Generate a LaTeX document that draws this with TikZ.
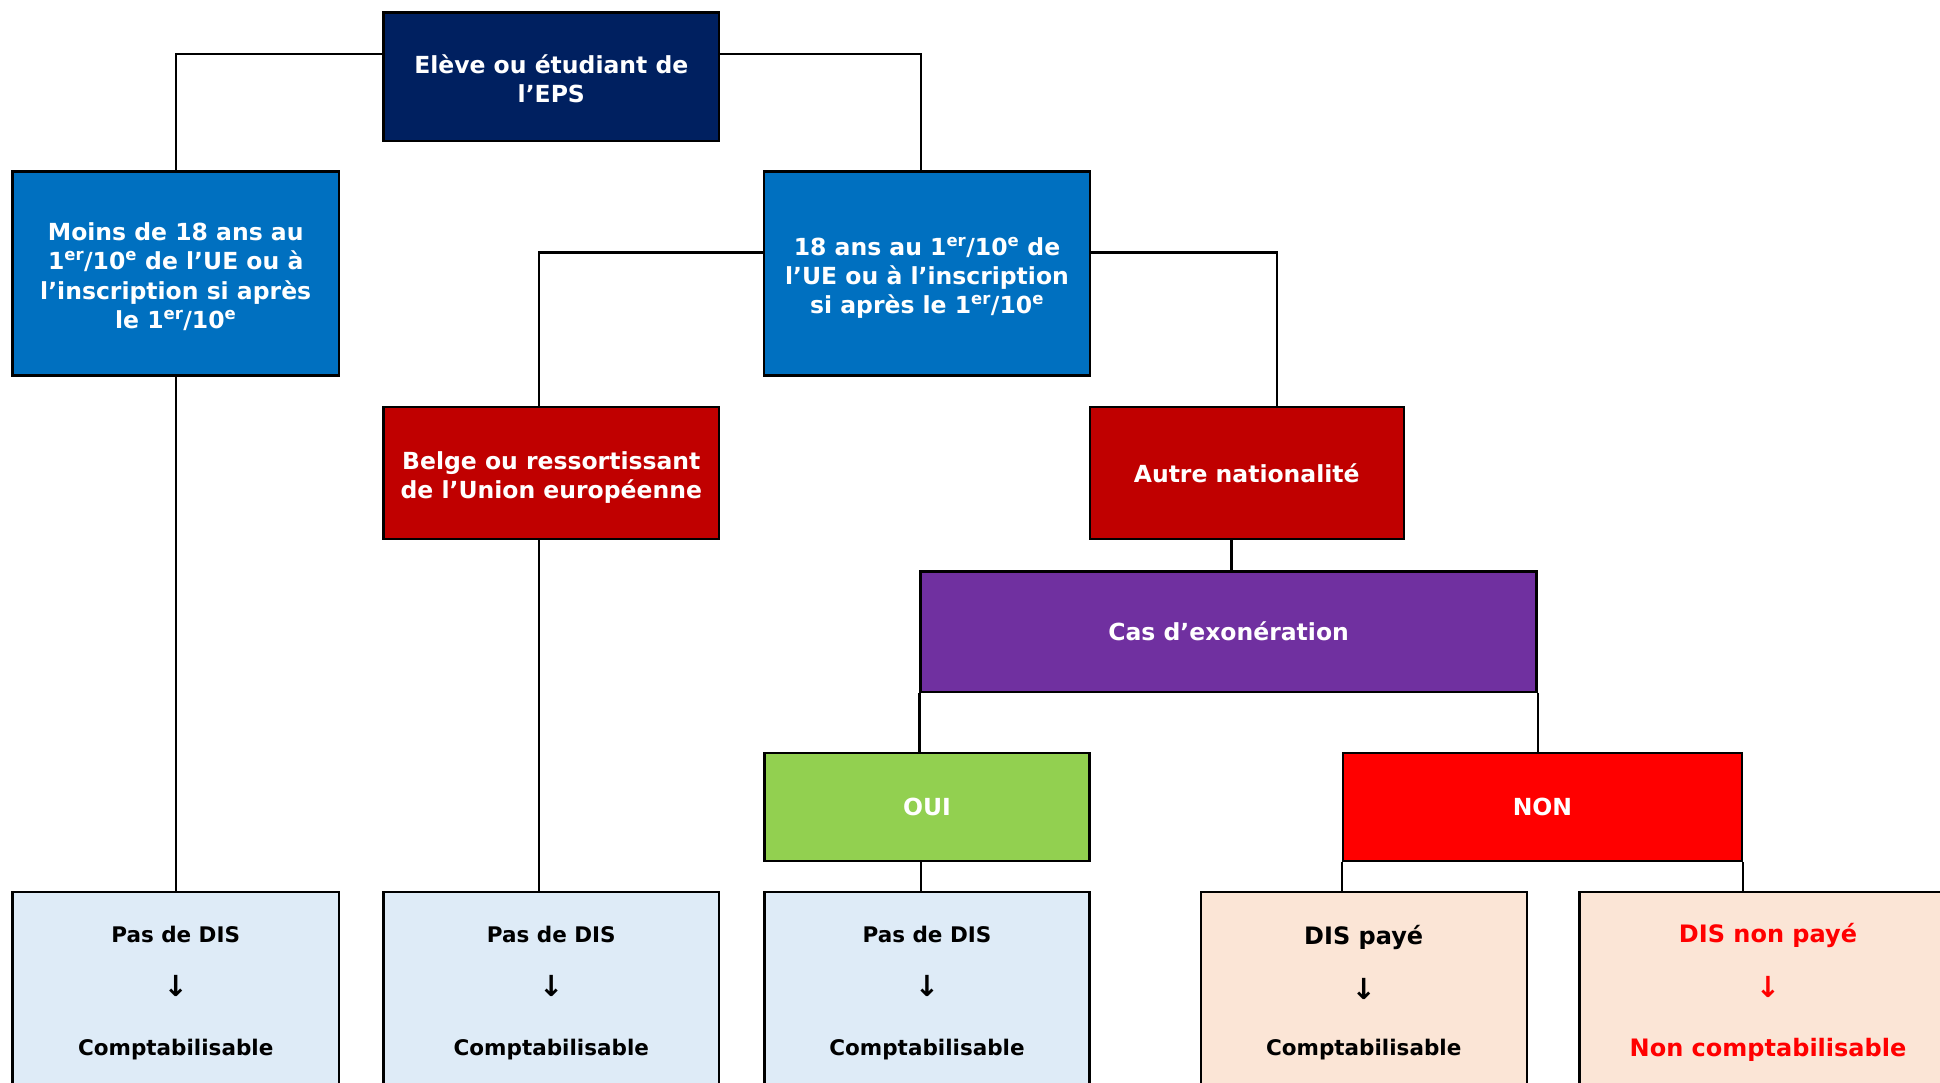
\documentclass[tikz,border=0pt]{standalone}
\usepackage{fontspec}
\setmainfont{DejaVu Sans}
\usetikzlibrary{calc}
\definecolor{navy}{HTML}{002060}
\definecolor{midblue}{HTML}{0070C0}
\definecolor{darkred}{HTML}{C00000}
\definecolor{purp}{HTML}{7030A0}
\definecolor{lgreen}{HTML}{92D050}
\definecolor{purered}{HTML}{FF0000}
\definecolor{lblue}{HTML}{DEEBF7}
\definecolor{peach}{HTML}{FBE5D6}
\newcommand{\supr}[1]{\textsuperscript{#1}}
\newcommand{\tstrut}[1]{\rule{0pt}{#1pt}}
\newcommand{\darr}{{\fontsize{29}{26}\selectfont ↓}}
\newcommand{\smallsz}{\fontsize{21.5}{26}\selectfont}
\begin{document}
\begin{tikzpicture}[x=1pt,y=-1pt,
  box/.style={draw=black, line width=2.4pt, rectangle, inner sep=0pt, align=center,
    font=\bfseries\fontsize{23.5}{29.3}\selectfont, text=white},
  wire/.style={draw=black, line width=2.3pt},
  botA/.style={box, text=black, fill=lblue, minimum height=201.8pt,
    font=\bfseries\fontsize{21.5}{26}\selectfont},
  botB/.style={box, text=black, fill=peach, minimum height=201.8pt,
    font=\bfseries\fontsize{24}{26}\selectfont}]
\useasboundingbox (0,0) rectangle (1940,1083);
\clip (0,0) rectangle (1940,1083);
\fill[white] (0,0) rectangle (1940,1083);

\node[box, fill=navy, minimum width=335.5pt, minimum height=128.5pt] (top) at (551.3,76.7)
  {\tstrut{23}Elève ou étudiant de\\l’EPS};
\node[box, fill=midblue, minimum width=326.6pt, minimum height=204pt] (moins) at (175.7,273.6)
  {\tstrut{24}Moins de 18 ans au\\1\supr{er}/10\supr{e} de l’UE ou à\\l’inscription si après\\le 1\supr{er}/10\supr{e}};
\node[box, fill=midblue, minimum width=326pt, minimum height=204pt] (ans18) at (927,273.6)
  {\tstrut{27}18 ans au 1\supr{er}/10\supr{e} de\\l’UE ou à l’inscription\\si après le 1\supr{er}/10\supr{e}};
\node[box, fill=darkred, minimum width=335.5pt, minimum height=132pt] (belge) at (551.3,473)
  {\tstrut{26.5}Belge ou ressortissant\\de l’Union européenne};
\node[box, fill=darkred, minimum width=314pt, minimum height=132pt] (autre) at (1246.7,473)
  {Autre nationalité};
\node[box, fill=purp, minimum width=616pt, minimum height=120.4pt] (cas) at (1228.6,631.5)
  {Cas d’exonération};
\node[box, fill=lgreen, minimum width=325pt, minimum height=108pt] (oui) at (927,807)
  {OUI};
\node[box, fill=purered, minimum width=399pt, minimum height=108pt] (non) at (1542.4,807)
  {NON};

\node[botA, minimum width=326.6pt] (b1) at (175.7,992.7)
  {Pas de DIS\\[28pt]\darr\\[33pt]Comptabilisable};
\node[botA, minimum width=335.5pt] (b2) at (551.3,992.7)
  {Pas de DIS\\[28pt]\darr\\[33pt]Comptabilisable};
\node[botA, minimum width=325pt] (b3) at (927,992.7)
  {Pas de DIS\\[28pt]\darr\\[33pt]Comptabilisable};
\node[botB, minimum width=326pt] (b4) at (1363.7,992.7)
  {DIS payé\\[28pt]\darr\\[30.5pt]{\smallsz Comptabilisable}};
\node[botB, minimum width=377pt, text=purered] (b5) at (1768,992.7)
  {DIS non payé\\[28pt]\darr\\[33pt]Non comptabilisable};

\draw[wire] ([yshift=22.7pt]top.west) -| (moins.north);
\draw[wire] ([yshift=22.7pt]top.east) -| ([xshift=-6pt]ans18.north);
\draw[wire] ([yshift=21pt]ans18.west) -| ([xshift=-12pt]belge.north);
\draw[wire] ([yshift=21pt]ans18.east) -| ([xshift=30pt]autre.north);
\draw[wire] ([xshift=3pt]autre.south -| cas.north) -- ([xshift=3pt]cas.north);
\draw[wire] (cas.south west) -- (cas.south west |- oui.north);
\draw[wire] (cas.south east) -- (cas.south east |- non.north);
\draw[wire] (moins.south) -- (b1.north);
\draw[wire] ([xshift=-12pt]belge.south) -- ([xshift=-12pt]b2.north);
\draw[wire] ([xshift=-6pt]oui.south) -- ([xshift=-6pt]b3.north);
\draw[wire] (non.south west) -- (non.south west |- b4.north);
\draw[wire] (non.south east) -- (non.south east |- b5.north);
\end{tikzpicture}
\end{document}
